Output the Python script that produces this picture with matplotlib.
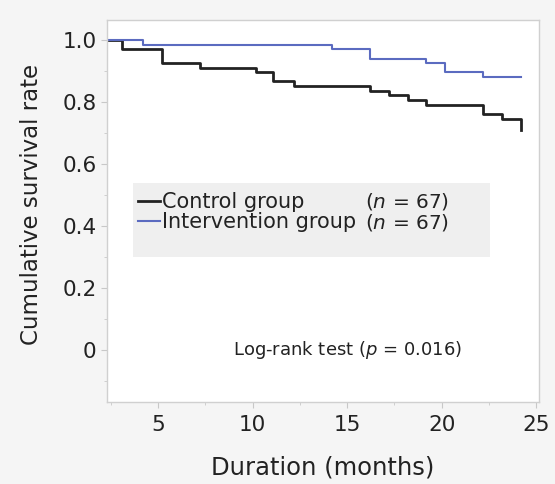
import matplotlib
matplotlib.use("Agg")
import matplotlib.pyplot as plt
from matplotlib.patches import Rectangle
from matplotlib.ticker import MultipleLocator

plt.rcParams['font.family'] = ['DejaVu Sans']

# Kaplan-Meier step data
control_t = [0, 3.1, 5.2, 7.2, 10.2, 11.1, 12.2, 16.2, 17.2, 18.2, 19.2, 22.2, 23.2, 24.2]
control_s = [1.0, 0.970, 0.925, 0.910, 0.896, 0.866, 0.851, 0.836, 0.821, 0.806, 0.791, 0.761, 0.746, 0.710]
interv_t = [0, 4.2, 14.2, 16.2, 19.2, 20.2, 22.2, 24.2]
interv_s = [1.0, 0.985, 0.970, 0.940, 0.925, 0.896, 0.881, 0.881]

labels = ["Control group", "Intervention group"]
n_text = ["($n$ = 67)", "($n$ = 67)"]
xticks = [5, 10, 15, 20, 25]
yticks = [0, 0.2, 0.4, 0.6, 0.8, 1.0]
yticklabels = ["0", "0.2", "0.4", "0.6", "0.8", "1.0"]

fig = plt.figure(figsize=(5.55, 4.84), dpi=100, facecolor='#f5f5f5')
ax = fig.add_axes([0.193, 0.169, 0.778, 0.790])
ax.set_facecolor('white')

ax.step(control_t, control_s, where='post', color='#222222', lw=2.0, label=labels[0])
ax.step(interv_t, interv_s, where='post', color='#5b6bc0', lw=1.5, label=labels[1])

ax.set_xlim(2.3, 25.15)
ax.set_ylim(-0.17, 1.065)
ax.set_xticks(xticks)
ax.set_yticks(yticks)
ax.set_yticklabels(yticklabels)
ax.xaxis.set_minor_locator(MultipleLocator(2.5))
ax.yaxis.set_minor_locator(MultipleLocator(0.1))
ax.tick_params(which='both', direction='out', color='#c8c8c8', labelsize=15.5, labelcolor='#222222')
ax.tick_params(which='major', length=4)
ax.tick_params(axis='x', which='major', pad=5)
ax.tick_params(which='minor', length=2)
for s in ax.spines.values():
    s.set_color('#d0d0d0')
    s.set_linewidth(1.0)

ax.set_xlabel("Duration (months)", fontsize=17.5, color='#222222', labelpad=15)
ax.set_ylabel("Cumulative survival rate", fontsize=16.5, color='#222222')
ax.yaxis.set_label_coords(-0.148, 0.518)

# grey legend panel
ax.add_patch(Rectangle((0.06, 0.380), 0.827, 0.193, transform=ax.transAxes,
                       facecolor='#efefef', edgecolor='none', zorder=3))

leg = ax.legend(loc='center left', bbox_to_anchor=(0.072, 0.497), fontsize=15,
                frameon=False, handlelength=1.05, handletextpad=0.1,
                borderpad=0, labelspacing=0.0, borderaxespad=0)
leg.set_zorder(5)
for t in leg.get_texts():
    t.set_color('#222222')

for txt, yy in zip(n_text, [0.524, 0.471]):
    ax.text(0.597, yy, txt, transform=ax.transAxes, fontsize=14.5, color='#222222',
            va='center', ha='left', zorder=10,
            bbox=dict(facecolor='#efefef', edgecolor='none', pad=0.5))

ax.text(0.556, 0.136, "Log-rank test ($p$ = 0.016)", transform=ax.transAxes,
        fontsize=13, color='#222222', ha='center', va='center')

fig.savefig("out.png", dpi=100, facecolor=fig.get_facecolor())
